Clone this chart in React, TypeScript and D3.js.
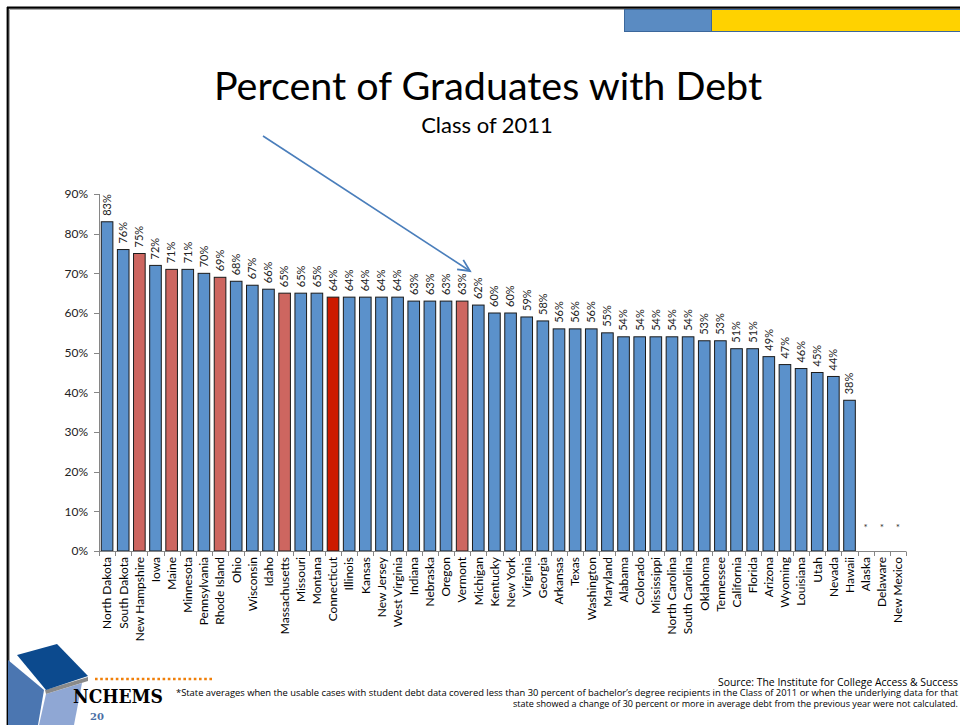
import React from "react";
import * as d3 from "d3";

const states = [
  "North Dakota","South Dakota","New Hampshire","Iowa","Maine","Minnesota","Pennsylvania","Rhode Island","Ohio","Wisconsin",
  "Idaho","Massachusetts","Missouri","Montana","Connecticut","Illinois","Kansas","New Jersey","West Virginia","Indiana",
  "Nebraska","Oregon","Vermont","Michigan","Kentucky","New York","Virginia","Georgia","Arkansas","Texas",
  "Washington","Maryland","Alabama","Colorado","Mississippi","North Carolina","South Carolina","Oklahoma","Tennessee","California",
  "Florida","Arizona","Wyoming","Louisiana","Utah","Nevada","Hawaii","Alaska","Delaware","New Mexico",
];
const values: (number | null)[] = [
  83,76,75,72,71,71,70,69,68,67,
  66,65,65,65,64,64,64,64,64,63,
  63,63,63,62,60,60,59,58,56,56,
  56,55,54,54,54,54,54,53,53,51,
  51,49,47,46,45,44,38,null,null,null,
];
const newEngland = ["New Hampshire","Maine","Rhode Island","Massachusetts","Vermont"];
const highlight = ["Connecticut"];
const yTicks = [0,10,20,30,40,50,60,70,80,90];

const FONT = "Lato, 'Open Sans', sans-serif";

export default function App() {
  const x = d3.scaleBand<string>().domain(states).range([99, 906]).paddingInner(0.28).paddingOuter(0.14);
  const y = d3.scaleLinear().domain([0, 90]).range([551, 194]);
  const bw = x.bandwidth();
  const step = x.step();
  const start = (x(states[0]) as number) - step * 0.14;

  const color = (s: string) =>
    highlight.includes(s) ? "#CC1A00" : newEngland.includes(s) ? "#CD6660" : "#5B91CB";

  // arrow
  const ax0 = 263, ay0 = 136, ax1 = 470, ay1 = 271;
  const ang = Math.atan2(ay1 - ay0, ax1 - ax0);
  const hl = 13, ha = 0.45;
  const h1 = [ax1 - hl * Math.cos(ang - ha), ay1 - hl * Math.sin(ang - ha)];
  const h2 = [ax1 - hl * Math.cos(ang + ha), ay1 - hl * Math.sin(ang + ha)];

  return (
    <svg width={960} height={725} style={{ position: "absolute", left: 0, top: 0, background: "#fff" }} fontFamily={FONT}>
      <rect x={0} y={0} width={960} height={725} fill="#fff" />
      {/* frame */}
      <line x1={9.5} y1={9.5} x2={960} y2={9.5} stroke="#aaa" strokeWidth={1} />
      <line x1={9.5} y1={9.5} x2={9.5} y2={725} stroke="#aaa" strokeWidth={1} />
      <line x1={7} y1={7.7} x2={960} y2={7.7} stroke="#000" strokeWidth={2.2} />
      <line x1={7.7} y1={7} x2={7.7} y2={725} stroke="#000" strokeWidth={2.2} />
      {/* top bars */}
      <rect x={624.5} y={9.5} width={87} height={22} fill="#5A8BC2" stroke="#3B679B" strokeWidth={1} />
      <rect x={711.5} y={9.5} width={250} height={22} fill="#FFD200" stroke="#3B679B" strokeWidth={1} />

      {/* title */}
      <text x={488} y={100} textAnchor="middle" fontSize={39.5} fill="#000">Percent of Graduates with Debt</text>
      <text x={487} y={133} textAnchor="middle" fontSize={22} fill="#000">Class of 2011</text>

      {/* y axis */}
      <line x1={99.5} y1={194} x2={99.5} y2={551.5} stroke="#868686" strokeWidth={1} />
      {yTicks.map((t) => (
        <g key={t}>
          <line x1={94} x2={99.5} y1={Math.round(y(t)) + 0.5} y2={Math.round(y(t)) + 0.5} stroke="#868686" />
          <text x={88} y={y(t)} dy="0.35em" textAnchor="end" fontSize={12} fill="#222">{t}%</text>
        </g>
      ))}

      {/* bars */}
      {states.map((s, i) => {
        const v = values[i];
        const cx = (x(s) as number) + bw / 2;
        if (v === null) {
          return (
            <text key={s} x={cx} y={531} textAnchor="middle" fontSize={10} fill="#333">*</text>
          );
        }
        return (
          <g key={s}>
            <rect x={x(s)} y={y(v)} width={bw} height={551 - y(v)} fill={color(s)} stroke="#1b1b1b" strokeWidth={1} />
            <text transform={`translate(${cx},${y(v) - 6}) rotate(-90)`} dy="0.35em" fontSize={11} fill="#222">{v}%</text>
          </g>
        );
      })}

      {/* x axis */}
      <line x1={99} x2={906} y1={551.5} y2={551.5} stroke="#868686" strokeWidth={1} />
      {d3.range(states.length + 1).map((i) => {
        const xx = Math.round(start + i * step) + 0.5;
        return <line key={i} x1={xx} x2={xx} y1={551.5} y2={556} stroke="#868686" />;
      })}
      {states.map((s) => {
        const cx = (x(s) as number) + bw / 2;
        return (
          <text key={s} transform={`translate(${cx},557) rotate(-90)`} dy="0.36em" textAnchor="end" fontSize={12} fill="#000">{s}</text>
        );
      })}

      {/* arrow */}
      <line x1={ax0} y1={ay0} x2={ax1} y2={ay1} stroke="#4A7EBB" strokeWidth={1.6} />
      <polyline points={`${h1[0]},${h1[1]} ${ax1},${ay1} ${h2[0]},${h2[1]}`} fill="none" stroke="#4A7EBB" strokeWidth={1.8} />

      {/* logo */}
      <polygon points="8,660 44,690 38,725 8,725" fill="#4B76B1" />
      <polygon points="46,694 82,683 74,725 39,725" fill="#8FA7D4" />
      <polygon points="45,690 88,677 88,681 46,694" fill="#8a8a8a" />
      <polygon points="17,655 57,644 88,676 46,690" fill="#0C4A8E" />
      <line x1={95} x2={213} y1={679} y2={679} stroke="#F07F09" strokeWidth={2.6} strokeDasharray="2.6,2.6" />
      <text x={73} y={703} fontFamily="'DejaVu Serif', serif" fontWeight="bold" fontSize={18} textLength={90} lengthAdjust="spacingAndGlyphs" fill="#000">NCHEMS</text>
      <text x={90} y={720} fontFamily="'DejaVu Serif', serif" fontWeight="bold" fontSize={10} fill="#4A6FA5">20</text>

      {/* footer */}
      <text x={958} y={686} textAnchor="end" fontSize={10.4} fontFamily="'Open Sans', sans-serif" fill="#000">Source: The Institute for College Access &amp; Success</text>
      <text x={176} y={696} fontSize={8.2} fontFamily="'Open Sans', sans-serif" textLength={782} lengthAdjust="spacingAndGlyphs" fill="#000">*State averages when the usable cases with student debt data covered less than 30 percent of bachelor’s degree recipients in the Class of 2011 or when the underlying data for that</text>
      <text x={958} y={707} textAnchor="end" fontSize={8.2} fontFamily="'Open Sans', sans-serif" textLength={445} lengthAdjust="spacingAndGlyphs" fill="#000">state showed a change of 30 percent or more in average debt from the previous year were not calculated.</text>
    </svg>
  );
}
